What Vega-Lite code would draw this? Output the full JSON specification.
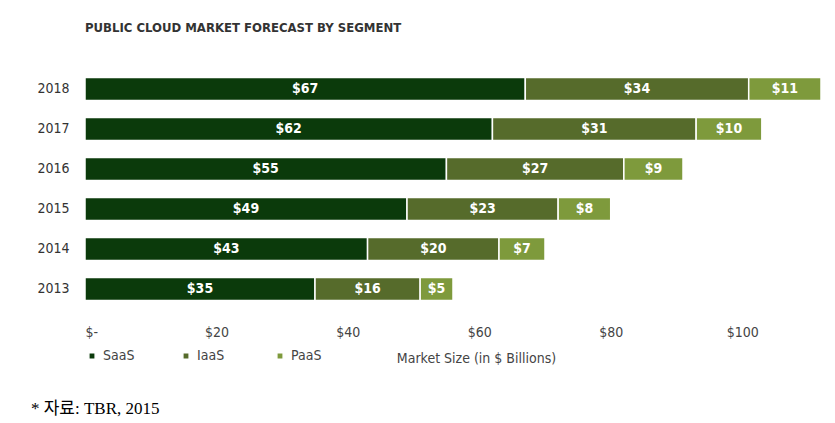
{
  "$schema": "https://vega.github.io/schema/vega-lite/v6.json",
  "background": "white",
  "padding": {"left": 30, "top": 22, "right": 5, "bottom": 5},
  "title": {"text": "* 자료: TBR, 2015", "orient": "bottom", "anchor": "start", "frame": "bounds", "font": "Liberation Serif, Noto Sans CJK KR", "fontSize": 17, "fontWeight": "normal", "color": "#000000", "offset": 36, "dx": -6},
  "config": {"view": {"stroke": null}, "concat": {"spacing": 0}, "font": "DejaVu Sans Condensed, sans-serif"},
  "vconcat": [
    {
      "width": 736,
      "height": 240,
      "title": {"text": "PUBLIC CLOUD MARKET FORECAST BY SEGMENT", "anchor": "start", "frame": "group", "font": "DejaVu Sans Condensed, sans-serif", "fontSize": 13, "fontWeight": "bold", "color": "#333333", "offset": 34},
      "data": {
        "values": [
          {"year": "2013", "segment": "SaaS", "value": 35, "k": 1},
          {"year": "2013", "segment": "IaaS", "value": 16, "k": 2},
          {"year": "2013", "segment": "PaaS", "value": 5, "k": 3},
          {"year": "2014", "segment": "SaaS", "value": 43, "k": 1},
          {"year": "2014", "segment": "IaaS", "value": 20, "k": 2},
          {"year": "2014", "segment": "PaaS", "value": 7, "k": 3},
          {"year": "2015", "segment": "SaaS", "value": 49, "k": 1},
          {"year": "2015", "segment": "IaaS", "value": 23, "k": 2},
          {"year": "2015", "segment": "PaaS", "value": 8, "k": 3},
          {"year": "2016", "segment": "SaaS", "value": 55, "k": 1},
          {"year": "2016", "segment": "IaaS", "value": 27, "k": 2},
          {"year": "2016", "segment": "PaaS", "value": 9, "k": 3},
          {"year": "2017", "segment": "SaaS", "value": 62, "k": 1},
          {"year": "2017", "segment": "IaaS", "value": 31, "k": 2},
          {"year": "2017", "segment": "PaaS", "value": 10, "k": 3},
          {"year": "2018", "segment": "SaaS", "value": 67, "k": 1},
          {"year": "2018", "segment": "IaaS", "value": 34, "k": 2},
          {"year": "2018", "segment": "PaaS", "value": 11, "k": 3}
        ]
      },
      "transform": [
        {"stack": "value", "groupby": ["year"], "sort": [{"field": "k", "order": "ascending"}], "as": ["v0", "v1"]}
      ],
      "encoding": {
        "y": {
          "field": "year", "type": "ordinal", "sort": "descending",
          "scale": {"paddingInner": 0.42, "paddingOuter": 0.21},
          "axis": {"title": null, "domain": false, "ticks": false, "labelPadding": 16, "labelFontSize": 14, "labelColor": "#333333"}
        }
      },
      "layer": [
        {
          "mark": {"type": "bar", "stroke": "white", "strokeWidth": 1.5},
          "encoding": {
            "x": {
              "field": "v0", "type": "quantitative",
              "scale": {"domain": [0, 112], "nice": false},
              "axis": {
                "values": [0, 20, 40, 60, 80, 100],
                "labelExpr": "datum.value == 0 ? '$-' : '$' + datum.value",
                "domain": false, "ticks": false, "grid": false,
                "labelPadding": 16, "labelFontSize": 14, "labelColor": "#444444",
                "title": "Market Size (in $ Billions)", "titleFontSize": 14, "titleFontWeight": "normal", "titleColor": "#444444",
                "titleX": 391, "titleY": 49, "titleBaseline": "middle", "titleAnchor": "middle"
              }
            },
            "x2": {"field": "v1"},
            "color": {
              "field": "segment", "type": "nominal",
              "scale": {"domain": ["SaaS", "IaaS", "PaaS"], "range": ["#0b3a0b", "#566b2b", "#7e9a3c"]},
              "legend": {
                "title": null, "orient": "none", "legendX": 0, "legendY": 280, "direction": "horizontal",
                "symbolType": "square", "symbolSize": 40, "labelFontSize": 14, "labelColor": "#444444",
                "columnPadding": 44, "gridAlign": "all"
              }
            }
          }
        },
        {
          "transform": [
            {"fold": ["v0", "v1"], "as": ["edge", "pos"]},
            {"aggregate": [{"op": "mean", "field": "pos", "as": "mid"}, {"op": "max", "field": "value", "as": "value"}], "groupby": ["year", "segment"]}
          ],
          "mark": {"type": "text", "color": "white", "fontSize": 14, "fontWeight": "bold", "baseline": "middle", "align": "center"},
          "encoding": {
            "x": {"field": "mid", "type": "quantitative"},
            "text": {"field": "value", "type": "quantitative", "format": "$.0f"}
          }
        }
      ]
    }
  ]
}
